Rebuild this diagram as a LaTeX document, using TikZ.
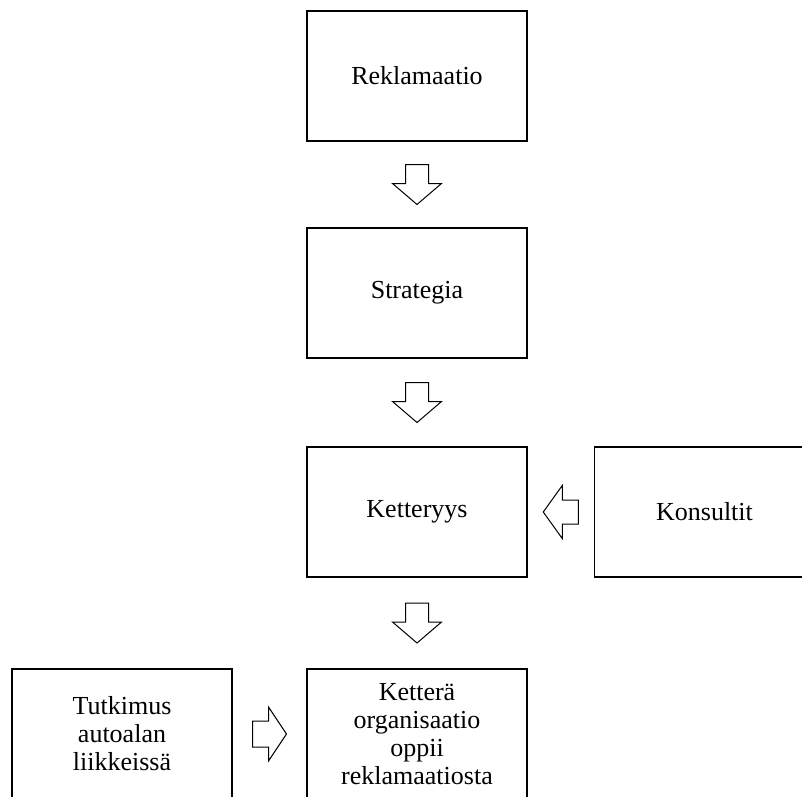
\documentclass[tikz,border=0pt]{standalone}
\usepackage{fontspec}
\setmainfont{Liberation Serif}
\usetikzlibrary{calc}
\tikzset{
  boxnode/.style={draw, line width=1.3pt, rectangle, minimum width=220pt, minimum height=130pt, inner sep=0pt, align=center, font=\fontsize{26}{28}\selectfont},
  blockarrow/.style={draw, fill=white, line width=1pt, line join=miter}
}
\begin{document}
\begin{tikzpicture}[x=1pt, y=-1pt]
\useasboundingbox (0,0) rectangle (802,796);
\clip (0,0) rectangle (802,796);
\fill[white] (0,0) rectangle (802,796);

\node[boxnode] (rek) at (417,76) {Reklamaatio};
\node[boxnode] (str) at (417,293) {Strategia};
\node[boxnode] (ket) at (417,512) {Ketteryys};
\node[boxnode] (kon) at (704.5,512) {Konsultit};
\node[boxnode] (tut) at (122,734) {Tutkimus\\autoalan\\liikkeissä};
\node[boxnode] (org) at (417,734) {Ketterä\\organisaatio\\oppii\\reklamaatiosta};

\coordinate (m1) at ($(rek.south)!0.5!(str.north)$);
\coordinate (m2) at ($(str.south)!0.5!(ket.north)$);
\coordinate (m3) at ($(ket.south)!0.5!(org.north)$);
\coordinate (m4) at ($(ket.east)!0.5!(kon.west)$);
\coordinate (m5) at ($(tut.east)!0.5!(org.west)$);

\foreach \m in {m1,m2,m3}{
  \begin{scope}[shift={(\m)}]
    \draw[blockarrow] (-11.5,-20) -- (-11.5,-1) -- (-24.5,-1) -- (0,20) -- (24.5,-1) -- (11.5,-1) -- (11.5,-20) -- cycle;
  \end{scope}
}
\begin{scope}[shift={(m4)}]
  \draw[blockarrow] (17.5,-12) -- (1.5,-12) -- (1.5,-26.5) -- (-17.5,0) -- (1.5,26.5) -- (1.5,12) -- (17.5,12) -- cycle;
\end{scope}
\begin{scope}[shift={(m5)}]
  \draw[blockarrow] (-17,-13) -- (-1,-13) -- (-1,-27) -- (17,0) -- (-1,27) -- (-1,13) -- (-17,13) -- cycle;
\end{scope}
\end{tikzpicture}
\end{document}
